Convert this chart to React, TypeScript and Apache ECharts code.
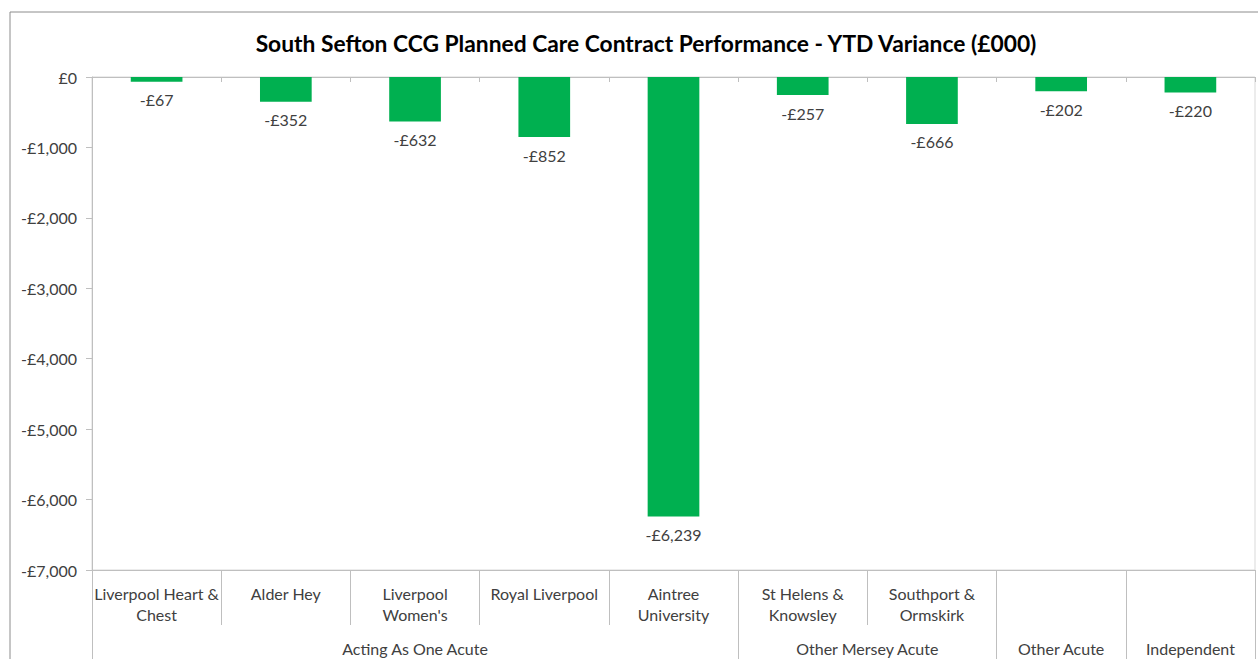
import React, { useEffect, useRef } from "react";
import * as echarts from "echarts";

const titleText = "South Sefton CCG Planned Care Contract Performance - YTD Variance (£000)";
const categories = [
  "Liverpool Heart &\nChest",
  "Alder Hey",
  "Liverpool\nWomen's",
  "Royal Liverpool",
  "Aintree\nUniversity",
  "St Helens &\nKnowsley",
  "Southport &\nOrmskirk",
  "",
  " ",
];
const values = [-67, -352, -632, -852, -6239, -257, -666, -202, -220];
const groupNames = ["Acting As One Acute", "Other Mersey Acute", "Other Acute", "Independent"];
const groupBounds = [0, 5, 7, 8, 9];
const yMin = -7000;
const yMax = 0;
const yStep = 1000;

const FONT = "Lato, 'Open Sans', sans-serif";

function money(v: number): string {
  if (v === 0) return "£0";
  const s = Math.abs(Math.round(v)).toString().replace(/\B(?=(\d{3})+(?!\d))/g, ",");
  return (v < 0 ? "-£" : "£") + s;
}

export default function App() {
  const ref = useRef<HTMLDivElement>(null);
  useEffect(() => {
    if (!ref.current) return;
    const chart = echarts.init(ref.current, undefined, { renderer: "svg" });
    const groupCenters = groupNames.map((_, i) => (groupBounds[i] + groupBounds[i + 1]) / 2);
    const axisGrey = "#BFBFBF";
    chart.setOption({
      animation: false,
      backgroundColor: "#ffffff",
      title: {
        text: titleText,
        left: 641,
        textAlign: "center",
        top: 26,
        textStyle: { fontFamily: FONT, fontSize: 22.8, fontWeight: "bold", color: "#000000" },
      },
      graphic: [
        {
          type: "rect",
          shape: { x: 10, y: 12, width: 1280, height: 700 },
          style: { fill: "none", stroke: "#8C8C8C", lineWidth: 1 },
          silent: true,
        },
      ],
      grid: {
        left: 92,
        right: 3,
        top: 77,
        bottom: 89,
        show: true,
        borderColor: "#D9D9D9",
        borderWidth: 1,
        backgroundColor: "transparent",
      },
      xAxis: [
        {
          type: "category",
          data: categories,
          position: "bottom",
          axisLine: { show: true, onZero: false, lineStyle: { color: axisGrey } },
          axisTick: { show: true, length: 55, lineStyle: { color: axisGrey } },
          axisLabel: {
            interval: 0,
            margin: 13,
            fontFamily: FONT,
            fontSize: 16,
            lineHeight: 21,
            color: "#404040",
            verticalAlign: "top",
          },
          splitLine: { show: false },
        },
        {
          type: "category",
          data: categories,
          position: "top",
          axisLine: { show: true, onZero: false, lineStyle: { color: axisGrey } },
          axisTick: { show: true, inside: true, length: 5, lineStyle: { color: axisGrey } },
          axisLabel: { show: false },
          splitLine: { show: false },
        },
        {
          type: "value",
          min: groupBounds[0],
          max: groupBounds[groupBounds.length - 1],
          position: "bottom",
          axisLine: { show: false, onZero: false },
          axisTick: { show: true, length: 89, customValues: groupBounds, lineStyle: { color: axisGrey } },
          axisLabel: {
            customValues: groupCenters,
            margin: 78,
            fontFamily: FONT,
            fontSize: 16,
            color: "#404040",
            verticalAlign: "middle",
            formatter: (v: number) => {
              const i = groupCenters.findIndex((c) => Math.abs(c - v) < 1e-6);
              return i >= 0 ? groupNames[i] : "";
            },
          },
          splitLine: { show: false },
        },
      ],
      yAxis: {
        type: "value",
        min: yMin,
        max: yMax,
        interval: yStep,
        axisLine: { show: true, lineStyle: { color: axisGrey } },
        axisTick: { show: true, length: 6, lineStyle: { color: axisGrey } },
        axisLabel: {
          margin: 15,
          fontFamily: FONT,
          fontSize: 16,
          color: "#404040",
          formatter: (v: number) => money(v),
        },
        splitLine: { show: false },
      },
      series: [
        {
          type: "bar",
          xAxisIndex: 0,
          data: values,
          barWidth: "40%",
          itemStyle: { color: "#00B050" },
          label: {
            show: true,
            position: "bottom",
            distance: 10,
            fontFamily: FONT,
            fontSize: 16,
            color: "#404040",
            formatter: (p: any) => money(p.value),
          },
        },
      ],
    });
    return () => chart.dispose();
  }, []);
  return (
    <div
      ref={ref}
      style={{ position: "fixed", left: 0, top: 0, width: 1258, height: 659, background: "#fff" }}
    />
  );
}
